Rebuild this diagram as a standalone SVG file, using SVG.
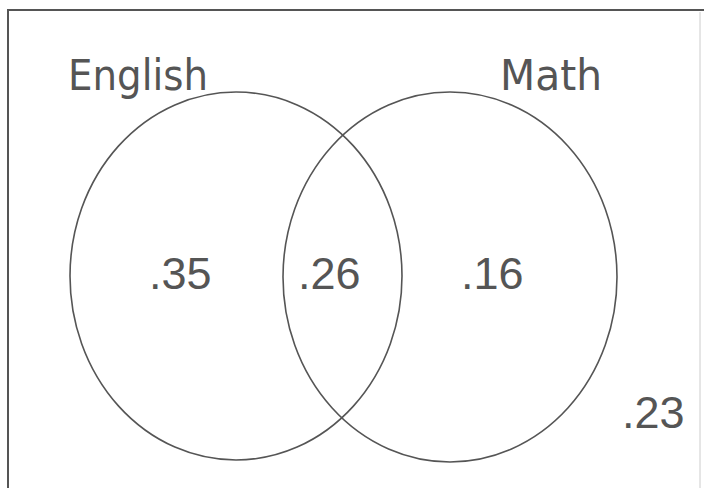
<svg xmlns="http://www.w3.org/2000/svg" width="705" height="488" viewBox="0 0 705 488">
<style>
.frame{fill:none;stroke:#555;stroke-width:2}
.frame2{fill:none;stroke:#ccc;stroke-width:1}
.set{fill:none;stroke:#555;stroke-width:1.6}
.lbl{font-family:"Comic Sans MS","DejaVu Sans",sans-serif;font-size:42px;fill:#555}
.num{font-family:"Liberation Sans",Arial,sans-serif;font-size:45px;fill:#555}
</style>
<rect width="705" height="488" fill="#fff"/>
<g id="frame">
<path class="frame" d="M8,488 V10 H704"/>
<line class="frame2" x1="700" y1="12" x2="700" y2="488"/>
</g>
<g id="english">
<ellipse class="set" cx="236" cy="276" rx="166" ry="184"/>
<text class="lbl" x="68" y="90" textLength="140" lengthAdjust="spacingAndGlyphs">English</text>
</g>
<g id="math">
<ellipse class="set" cx="450" cy="277" rx="167" ry="185"/>
<text class="lbl" x="500" y="90" textLength="102" lengthAdjust="spacingAndGlyphs">Math</text>
</g>
<g id="values">
<text class="num" x="149" y="289">.35</text>
<text class="num" x="298" y="289">.26</text>
<text class="num" x="461" y="289">.16</text>
<text class="num" x="622" y="428">.23</text>
</g>
</svg>
